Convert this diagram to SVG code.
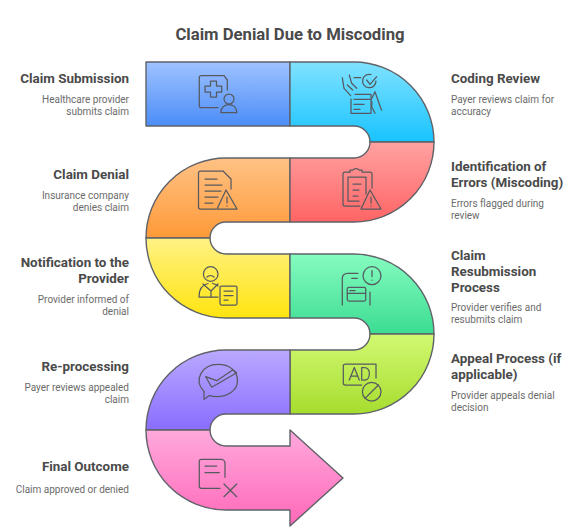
<svg xmlns="http://www.w3.org/2000/svg" width="586" height="531" viewBox="0 0 586 531">
<style>
.band{stroke:#5f6268;stroke-width:1.4;stroke-linejoin:round}
.ic{fill:none;stroke:#565a60;stroke-width:1.25;stroke-linecap:round;stroke-linejoin:round}
.h{font:700 13.4px Roboto,"Liberation Sans",sans-serif;fill:#4a4a4a}
.d{font:400 10px Roboto,"Liberation Sans",sans-serif;fill:#6b6b6b}
.e{text-anchor:end}
.t{font:700 16.7px Roboto,"Liberation Sans",sans-serif;fill:#4a4a4a;text-anchor:middle}
</style>
<defs>
<linearGradient id="g1" x1="0" y1="0" x2="0" y2="1"><stop offset="0" stop-color="#9fc2ff"/><stop offset="1" stop-color="#4b8df8"/></linearGradient>
<linearGradient id="g2" x1="0" y1="0" x2="0" y2="1"><stop offset="0" stop-color="#80e2ff"/><stop offset="1" stop-color="#18c3ff"/></linearGradient>
<linearGradient id="g3" x1="0" y1="0" x2="0" y2="1"><stop offset="0" stop-color="#ffc285"/><stop offset="1" stop-color="#ff9a38"/></linearGradient>
<linearGradient id="g4" x1="0" y1="0" x2="0" y2="1"><stop offset="0" stop-color="#ffa2a2"/><stop offset="1" stop-color="#ff6464"/></linearGradient>
<linearGradient id="g5" x1="0" y1="0" x2="0" y2="1"><stop offset="0" stop-color="#fff285"/><stop offset="1" stop-color="#ffe40f"/></linearGradient>
<linearGradient id="g6" x1="0" y1="0" x2="0" y2="1"><stop offset="0" stop-color="#85fcc0"/><stop offset="1" stop-color="#3cdc92"/></linearGradient>
<linearGradient id="g7" x1="0" y1="0" x2="0" y2="1"><stop offset="0" stop-color="#d2f972"/><stop offset="1" stop-color="#a6dd2e"/></linearGradient>
<linearGradient id="g8" x1="0" y1="0" x2="0" y2="1"><stop offset="0" stop-color="#baa9ff"/><stop offset="1" stop-color="#8a6dff"/></linearGradient>
<linearGradient id="g9" x1="0" y1="0" x2="0" y2="1"><stop offset="0" stop-color="#ffa9dd"/><stop offset="1" stop-color="#ff68b8"/></linearGradient>
</defs>
<rect width="586" height="531" fill="#ffffff"/>
<text class="t" x="290" y="39.5">Claim Denial Due to Miscoding</text>

<g id="node-claim-submission">
<path class="band" fill="url(#g1)" d="M146 62H290V126H146Z"/>
<g class="ic"><path d="M224 75.700H201.300a2 2 0 0 0-2 2V105.700a2 2 0 0 0 2 2H218M224 75.700L227.300 80V90"/><path d="M210.500 81H216.500V86H221.700V92H216.500V97H210.500V92H205V86H210.500Z"/><circle cx="229" cy="99" r="5"/><path d="M220.800 112.500C221 102 237 102 236.800 112.500Z"/></g>
<text class="h e" x="129" y="83">Claim Submission</text>
<text class="d e" x="129" y="103">Healthcare provider</text>
<text class="d e" x="129" y="115">submits claim</text>
</g>

<g id="node-coding-review">
<path class="band" fill="url(#g2)" d="M290 62H354A80 80 0 0 1 434 142H370A16 16 0 0 0 354 126H290Z"/>
<g class="ic"><path d="M342.300 77.700L344 88.300L350.700 95.700M349.300 75L351.700 83.300L356.700 88.300M347.300 85L352.700 90"/><path d="M354 77.700H360.700"/><path d="M355 94.300H371V113.300H351V99"/><path d="M354 99.300H370M354 104.300H364M354 109.300H360"/><path d="M376 81A6.700 6.700 0 1 1 371 74.500"/><path d="M366.700 80L370 84.300L376.700 76.700"/><path d="M371 100L375 91.700L380.700 108L381.700 110M372 101.700L371.700 106.700L375 113.300"/></g>
<text class="h" x="451" y="83">Coding Review</text>
<text class="d" x="451" y="103">Payer reviews claim for</text>
<text class="d" x="451" y="115">accuracy</text>
</g>

<g id="node-claim-denial">
<path class="band" fill="url(#g3)" d="M290 158H226A80 80 0 0 0 146 238H210A16 16 0 0 1 226 222H290Z"/>
<g class="ic"><path d="M223 171H200.500a2 2 0 0 0-2 2V207a2 2 0 0 0 2 2H216M223 171L231 179V189"/><path d="M205 179H217M205 185H222M205 191H221M205 197H218M205 203H213"/><path d="M226 190L237 209H217Z"/><path d="M227 197V203M227 205.800V206"/></g>
<text class="h e" x="129" y="179">Claim Denial</text>
<text class="d e" x="129" y="199">Insurance company</text>
<text class="d e" x="129" y="211">denies claim</text>
</g>

<g id="node-identification-errors">
<path class="band" fill="url(#g4)" d="M290 158H354A16 16 0 0 0 370 142H434A80 80 0 0 1 354 222H290Z"/>
<g class="ic"><path d="M350 172H345a2 2 0 0 0-2 2V204a2 2 0 0 0 2 2H360"/><path d="M350 172V170H353C354 168 358 168 359 170H362V172H370a2 2 0 0 1 2 2V188"/><path d="M348 177H366V194M348 177V201H359"/><path d="M353 184H361M353 190H359M353 196H358"/><path d="M370 190L381 209H361Z"/><path d="M371 197V203M371 205.800V206"/></g>
<text class="h" x="451" y="171">Identification of</text>
<text class="h" x="451" y="187">Errors (Miscoding)</text>
<text class="d" x="451" y="207">Errors flagged during</text>
<text class="d" x="451" y="219">review</text>
</g>

<g id="node-notification">
<path class="band" fill="url(#g5)" d="M146 238H210A16 16 0 0 0 226 254H290V318H226A80 80 0 0 1 146 238Z"/>
<g class="ic"><circle cx="210.700" cy="274" r="7.300"/><path d="M207 277C209 275 212 275 214 277"/><path d="M203 284L211 291L218 284M211 291V297"/><path d="M199 297H218M199 297C199 290 201 285 208 283.500M212.500 283.500C215 284 217 285 218 286"/><rect x="220" y="286" width="17" height="19" rx="1.500"/><path d="M224 291H233M224 295.500H233M224 300H228"/></g>
<text class="h e" x="129" y="267">Notification to the</text>
<text class="h e" x="129" y="283">Provider</text>
<text class="d e" x="129" y="303">Provider informed of</text>
<text class="d e" x="129" y="315">denial</text>
</g>

<g id="node-resubmission">
<path class="band" fill="url(#g6)" d="M290 254H354A80 80 0 0 1 434 334H370A16 16 0 0 0 354 318H290Z"/>
<g class="ic"><path d="M342.300 305V278.300a5 5 0 0 1 5-5H358M351.700 278.300H357.300"/><circle cx="372" cy="275.700" r="9"/><path d="M372 270.500V276.500M372 280V280.200"/><rect x="347.300" y="287.300" width="18.400" height="13.700" rx="1.500"/><path d="M347.300 293.300H365.700M350 290.700H355M370 292V305"/></g>
<text class="h" x="451" y="260">Claim</text>
<text class="h" x="451" y="276">Resubmission</text>
<text class="h" x="451" y="292">Process</text>
<text class="d" x="451" y="311">Provider verifies and</text>
<text class="d" x="451" y="323">resubmits claim</text>
</g>

<g id="node-appeal">
<path class="band" fill="url(#g7)" d="M290 350H354A16 16 0 0 0 370 334H434A80 80 0 0 1 354 414H290Z"/>
<g class="ic"><path d="M376 378V364H345.300a2 2 0 0 0-2 2V383a2 2 0 0 0 2 2H361.700"/><path d="M349.300 380L354.300 367.500L359.300 380M351 376H357.600M361.700 367.500V380H364.500C371 380 371 367.500 364.500 367.500H361.700"/><circle cx="371.700" cy="391.700" r="9.300"/><path d="M365 398.400L378.400 385"/></g>
<text class="h" x="451" y="363">Appeal Process (if</text>
<text class="h" x="451" y="379">applicable)</text>
<text class="d" x="451" y="399">Provider appeals denial</text>
<text class="d" x="451" y="411">decision</text>
</g>

<g id="node-reprocessing">
<path class="band" fill="url(#g8)" d="M290 350H226A80 80 0 0 0 146 430H210A16 16 0 0 1 226 414H290Z"/>
<g class="ic"><path d="M204 391.500C193 380 202 364.300 218 364.300C229 364.300 237.500 370.500 237.500 380.500C237.500 391 227 396.700 217 396.700C213.500 396.700 211 396.300 209.500 395.500L204 399.300Z"/><path d="M205.700 376.700L211.700 387.300L236.700 372.700L232.700 370L216.700 380.700Z"/></g>
<text class="h e" x="129" y="371">Re-processing</text>
<text class="d e" x="129" y="391">Payer reviews appealed</text>
<text class="d e" x="129" y="403">claim</text>
</g>

<g id="node-final-outcome">
<path class="band" fill="url(#g9)" d="M146 430H210A16 16 0 0 0 226 446H290V430L343 478L290 526V510H226A80 80 0 0 1 146 430Z"/>
<g class="ic"><path d="M220 488.300H201.300a2 2 0 0 1-2-2V461.300a2 2 0 0 1 2-2H221a4 4 0 0 1 4 4V477.300"/><path d="M205 466H216.700M205 472.700H219.300"/><path d="M224 484L236.700 496.700M236.700 484L224 496.700"/></g>
<text class="h e" x="129" y="471">Final Outcome</text>
<text class="d e" x="129" y="493">Claim approved or denied</text>
</g>
</svg>
